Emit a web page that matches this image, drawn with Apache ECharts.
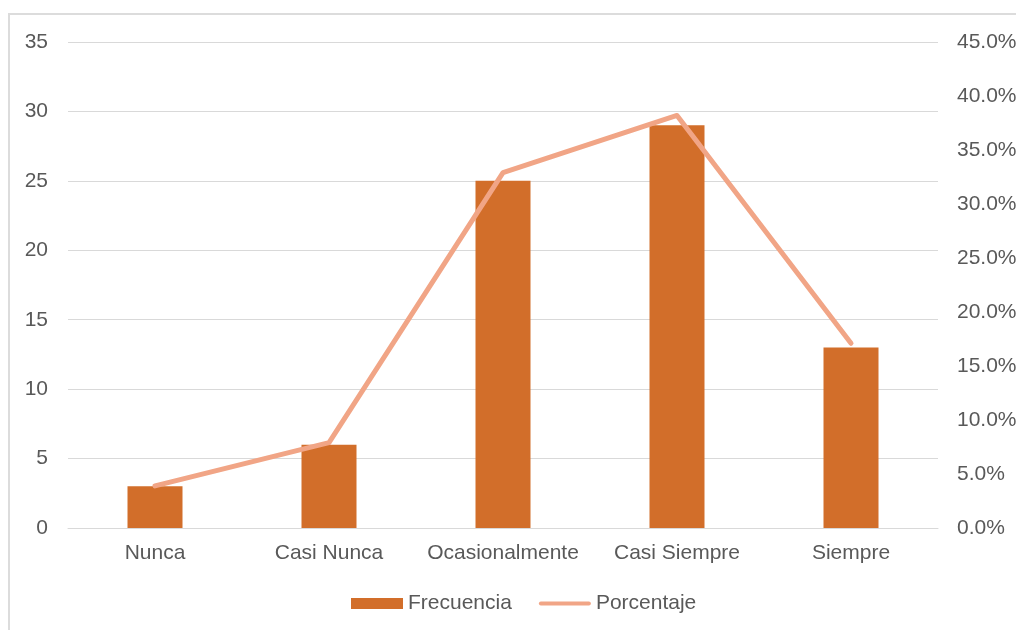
<!DOCTYPE html>
<html>
<head>
<meta charset="utf-8">
<script src="https://cdn.jsdelivr.net/npm/echarts@6/dist/echarts.min.js"></script>
<style>
  html, body { margin: 0; padding: 0; background: #ffffff; }
  #frame { position: absolute; left: 8px; top: 13px; width: 1008px; height: 640px;
           border-left: 2px solid #DCDCDC; border-top: 2px solid #DCDCDC; box-sizing: border-box; }
  #chart { position: absolute; left: 0; top: 0; width: 1020px; height: 630px; }
</style>
</head>
<body>
<div id="frame"></div>
<div id="chart"></div>
<script>
// Response categories
const categories = ['Nunca', 'Casi Nunca', 'Ocasionalmente', 'Casi Siempre', 'Siempre'];
// Count of responses per category
const frecuencia = [3, 6, 25, 29, 13];
// Share of responses per category, in percent
const porcentaje = [3.9, 7.9, 32.9, 38.2, 17.1];

const textColor = '#595959';
const gridColor = '#D9D9D9';
const barColor = '#D26E2A';
const lineColor = '#F1A586';
const font = 'Liberation Sans, Arial, sans-serif';

const chart = echarts.init(document.getElementById('chart'));
chart.setOption({
  backgroundColor: 'transparent',
  animation: false,
  textStyle: { fontFamily: font, color: textColor },
  grid: { left: 68, right: 82, top: 42, bottom: 102, containLabel: false },
  legend: {
    data: [
      { name: 'Frecuencia', icon: 'rect' },
      // thin rounded bar standing in for the line swatch
      { name: 'Porcentaje', icon: 'path://M2,0 H50 A2,2 0 0 1 50,4 H2 A2,2 0 0 1 2,0 Z',
        itemStyle: { color: lineColor } }
    ],
    left: 346,
    top: 588,
    itemWidth: 52,
    itemHeight: 11,
    itemGap: 27,
    textStyle: { fontFamily: font, fontSize: 21, color: textColor }
  },
  xAxis: {
    type: 'category',
    data: categories,
    axisLine: { lineStyle: { color: gridColor, width: 1 } },
    axisTick: { show: false },
    axisLabel: { color: textColor, fontSize: 21, fontFamily: font, margin: 15, interval: 0 }
  },
  yAxis: [
    {
      type: 'value', min: 0, max: 35, interval: 5,
      axisLine: { show: false }, axisTick: { show: false },
      splitLine: { lineStyle: { color: gridColor, width: 1 } },
      axisLabel: { color: textColor, fontSize: 21, fontFamily: font, margin: 20 }
    },
    {
      type: 'value', min: 0, max: 45, interval: 5,
      axisLine: { show: false }, axisTick: { show: false },
      splitLine: { show: false },
      axisLabel: {
        color: textColor, fontSize: 21, fontFamily: font, margin: 19,
        formatter: v => v.toFixed(1) + '%'
      }
    }
  ],
  series: [
    {
      name: 'Frecuencia',
      type: 'bar',
      data: frecuencia,
      barWidth: 55,
      itemStyle: { color: barColor }
    },
    {
      name: 'Porcentaje',
      type: 'line',
      yAxisIndex: 1,
      data: porcentaje,
      symbol: 'none',
      lineStyle: { color: lineColor, width: 5, cap: 'round', join: 'round' },
      itemStyle: { color: lineColor }
    }
  ]
});
</script>
</body>
</html>
